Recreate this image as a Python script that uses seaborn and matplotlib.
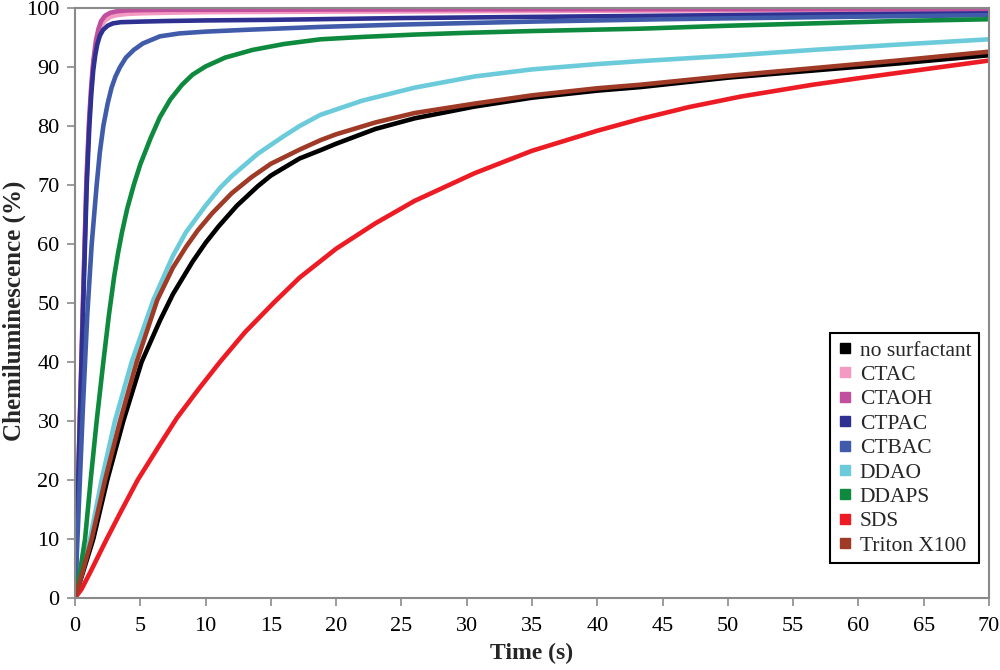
import pandas as pd
import matplotlib
matplotlib.use("Agg")
import matplotlib.pyplot as plt
from matplotlib.lines import Line2D
import seaborn as sns

# =============================
# DATA
# =============================
series_names = ["no surfactant", "CTAC", "CTAOH", "CTPAC", "CTBAC",
                "DDAO", "DDAPS", "SDS", "Triton X100"]

no_surf_t = [0, 0.7, 1.4, 2.47, 3.7, 5.1, 6.5, 7.5, 9, 10, 11, 12.4, 14, 15,
             17.2, 18.8, 20, 23, 26, 30.6, 35, 40, 43.3, 50, 56.5, 63, 70]
no_surf_v = [0, 5, 10, 20, 30, 40, 47, 51.5, 57, 60.2, 63, 66.5, 69.8, 71.6,
             74.5, 75.9, 77, 79.5, 81.3, 83.3, 84.8, 86, 86.6, 88.2, 89.4, 90.6, 92.0]

ctac_t = [0, 0.2, 0.4, 0.62, 0.88, 1.08, 1.25, 1.4, 1.6, 1.8, 2.0, 2.3, 2.7,
          3.2, 4, 5, 7, 10, 20, 35, 50, 70]
ctac_v = [0, 16, 32.5, 50.5, 70.5, 80.5, 86.5, 90.5, 93.8, 95.8, 97, 97.9, 98.5,
          98.8, 99.0, 99.1, 99.2, 99.3, 99.4, 99.5, 99.6, 99.7]

ctaoh_t = [0, 0.2, 0.4, 0.62, 0.88, 1.08, 1.25, 1.4, 1.6, 1.8, 2.0, 2.3, 2.7,
           3.2, 4, 5, 7, 10, 20, 35, 50, 70]
ctaoh_v = [0, 16.5, 33, 51, 71, 81, 87, 91, 94.5, 96.5, 97.8, 98.7, 99.2,
           99.45, 99.6, 99.65, 99.7, 99.7, 99.75, 99.8, 99.8, 99.8]

ctpac_t = [0, 0.2, 0.4, 0.64, 0.9, 1.1, 1.25, 1.4, 1.55, 1.7, 1.9, 2.15, 2.5,
           2.9, 3.5, 5, 7, 10, 15, 25, 35, 45, 55, 70]
ctpac_v = [0, 16, 32, 50.5, 70, 80, 85.5, 89.5, 92, 93.8, 95.3, 96.3, 97.0,
           97.4, 97.6, 97.7, 97.8, 97.9, 98.0, 98.3, 98.5, 98.7, 98.9, 99.1]

ctbac_t = [0, 0.3, 0.6, 0.94, 1.28, 1.66, 1.9, 2.17, 2.5, 2.8, 3.1, 3.45, 3.9,
           4.5, 5.2, 6.5, 8, 10, 13, 18.8, 25, 35, 45, 55, 70]
ctbac_v = [0, 16, 32, 48, 60, 70, 75.5, 80, 83.8, 86.5, 88.4, 90, 91.6,
           92.9, 94, 95.2, 95.7, 96.0, 96.3, 96.8, 97.2, 97.7, 98.1, 98.4, 98.8]

ddao_t = [0, 0.6, 1.15, 2.04, 3.06, 4.34, 6.0, 7.5, 8.5, 10, 11.1, 12, 14, 16,
          17.2, 18.8, 22, 26, 30.6, 35, 40, 43.3, 50, 56.5, 63, 70]
ddao_v = [0, 5, 10, 20, 30, 40, 50.5, 58, 62, 66.5, 69.5, 71.5, 75.3, 78.3,
          80, 81.9, 84.3, 86.5, 88.4, 89.6, 90.5, 91, 91.9, 92.9, 93.8, 94.7]

ddaps_t = [0, 0.35, 0.77, 1.2, 1.66, 2.17, 2.6, 3.0, 3.3, 3.6, 4.0, 4.5, 5.0,
           5.8, 6.5, 7.3, 8.2, 9.0, 10, 11.5, 13.6, 16, 18.8, 22, 26, 30, 35,
           43.3, 50, 56.5, 63, 70]
ddaps_v = [0, 4, 10, 20, 30, 40, 48, 54.5, 58.5, 62, 66, 70, 73.5,
           78, 81.5, 84.5, 87, 88.7, 90.1, 91.6, 92.9, 93.9, 94.7, 95.1, 95.5, 95.8, 96.1,
           96.5, 97, 97.4, 97.8, 98.1]

sds_t = [0, 0.5, 1.2, 2.43, 3.6, 4.8, 6.5, 7.8, 9.5, 11.1, 13, 15.2, 17.2, 20,
         23, 26, 30.6, 35, 40, 43.3, 47, 51, 56.5, 60, 65, 70]
sds_v = [0, 1.5, 4.5, 10, 15, 20, 26, 30.5, 35.5, 40, 45, 50, 54.3, 59.2,
         63.5, 67.3, 72, 75.8, 79.2, 81.2, 83.2, 85, 87, 88.1, 89.6, 91.1]

triton_t = [0, 0.65, 1.28, 2.3, 3.45, 4.72, 6.3, 7.5, 8.5, 9.4, 10.5, 12, 13.5,
            15, 17.2, 18.8, 20, 23, 26, 30.6, 35, 40, 43.3, 50, 56.5, 63, 70]
triton_v = [0, 5, 10, 20, 30, 40, 50.5, 56, 59.5, 62.3, 65.2, 68.6, 71.3,
            73.6, 76, 77.6, 78.6, 80.6, 82.2, 83.8, 85.2, 86.4, 87, 88.5, 89.8, 91.1, 92.6]

x_ticks = list(range(0, 71, 5))
y_ticks = list(range(0, 101, 10))

colors = ["#000000", "#F49AC2", "#C0509E", "#2E3192", "#3F5BAA",
          "#6BCBDB", "#0E8A3E", "#ED1C24", "#9E3A26"]

# =============================
# LONG TABLE FOR SEABORN
# =============================
all_t = [no_surf_t, ctac_t, ctaoh_t, ctpac_t, ctbac_t, ddao_t, ddaps_t, sds_t, triton_t]
all_v = [no_surf_v, ctac_v, ctaoh_v, ctpac_v, ctbac_v, ddao_v, ddaps_v, sds_v, triton_v]

frames = []
for name, t, v in zip(series_names, all_t, all_v):
    frames.append(pd.DataFrame({"Time": t, "CL": v, "series": name}))
df = pd.concat(frames, ignore_index=True)

# =============================
# PLOT
# =============================
sns.set_theme(style="white")
plt.rcParams["font.family"] = ["Liberation Serif", "DejaVu Serif"]

fig = plt.figure(figsize=(10, 6.7), dpi=100)
ax = fig.add_axes([0.075, 0.1075, 0.914, 0.8805])

palette = dict(zip(series_names, colors))
sns.lineplot(data=df, x="Time", y="CL", hue="series", hue_order=series_names,
             palette=palette, linewidth=3.3, estimator=None, legend=False, ax=ax)

ax.set_xlim(0, 70)
ax.set_ylim(0, 100)
ax.set_xticks(x_ticks)
ax.set_yticks(y_ticks)

for side in ["left", "bottom", "top", "right"]:
    ax.spines[side].set_visible(True)
    ax.spines[side].set_color("#8a8a8a")
    ax.spines[side].set_linewidth(1.5)

ax.tick_params(axis="both", direction="out", length=6, width=1.2,
               color="#8a8a8a", labelsize=16, labelcolor="black")
ax.tick_params(axis="x", pad=8, bottom=True)
ax.tick_params(axis="y", pad=5, left=True)

ax.set_xlabel("Time (s)", fontsize=17, fontweight="bold", labelpad=5)
ax.set_ylabel("Chemiluminescence (%)", fontsize=18, fontweight="bold")
ax.yaxis.set_label_coords(-0.054, 0.486)

handles = [Line2D([], [], marker="s", linestyle="none", color=c,
                  markersize=7) for c in colors]
leg = ax.legend(handles, series_names, loc="lower right",
                bbox_to_anchor=(0.989, 0.059), fontsize=15.5,
                frameon=True, fancybox=False, framealpha=1,
                handlelength=0.7, handletextpad=0.35, labelspacing=0.2,
                borderpad=0.35, borderaxespad=0)
leg.get_frame().set_edgecolor("black")
leg.get_frame().set_linewidth(1.5)

fig.savefig("out.png", dpi=100)
